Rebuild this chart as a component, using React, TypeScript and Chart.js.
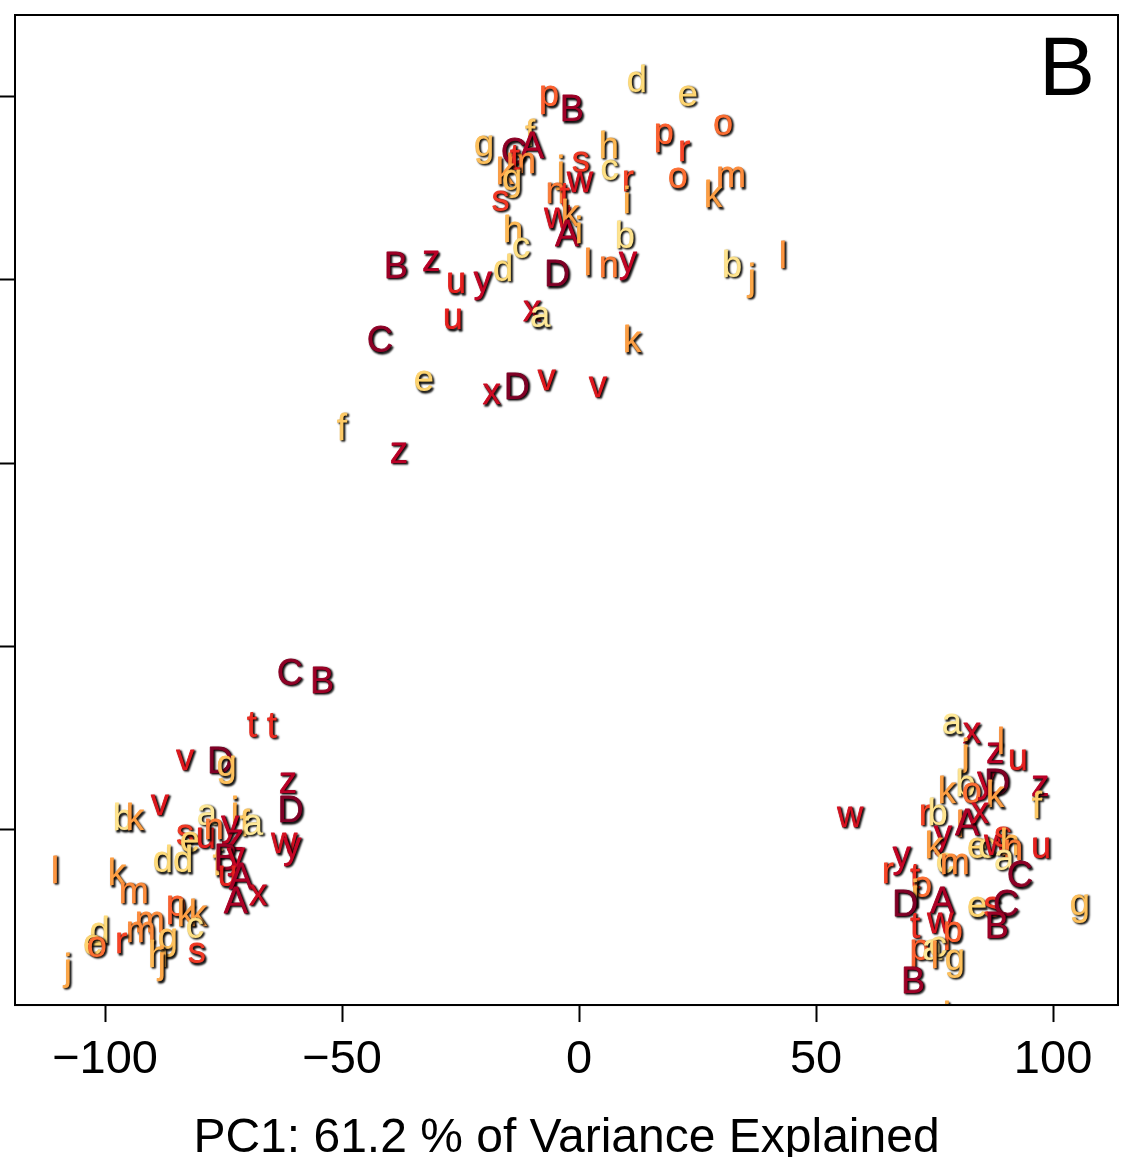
import React, { useEffect, useRef } from 'react';
import { Chart, registerables } from 'chart.js';

Chart.register(...registerables);

// Sample codes in colour order (pale yellow -> dark red)
const CODES = 'abcdefghijklmnopqrstuvwxyzABCD';

// Axis ticks
const X_TICKS = [-100, -50, 0, 50, 100];
const Y_TICKS = [40, 20, 0, -20, -40];
const X_TITLE = 'PC1: 61.2 % of Variance Explained';
const PANEL = 'B';

// Upper group
const TOP_LABELS = ['p','B','d','e','o','p','r','h','c','r','i','o','m','k','s','w','j','n','t','w','k','A','i','b','l','n','y','b','j','l','f','g','C','A','m','t','k','g','s','h','c','B','z','u','y','d','D','u','x','a','k','C','e','x','D','v','v','f','z'];
const TOP_PC1 = [-6.3,-1.5,12.2,23.0,30.4,17.9,22.2,6.3,6.5,10.3,
  10.1,20.9,32.1,28.3,0.4,0.2,-3.8,-4.9,-3.0,-4.6,
  -1.9,-2.5,0.0,9.7,1.9,6.3,10.3,32.3,36.5,43.0,
  -10.3,-20.0,-13.7,-9.9,-12.2,-13.5,-15.6,-14.1,-16.5,-13.9,
  -12.2,-38.6,-31.2,-25.9,-20.3,-16.0,-4.6,-26.6,-9.9,-8.2,
  11.2,-42.0,-32.7,-18.4,-13.1,-6.8,4.0,-50.0,-38.0];
const TOP_PC2 = [40.0,38.4,41.6,40.1,36.9,35.9,34.0,34.4,32.0,30.8,
  28.4,31.1,31.2,29.0,32.9,30.7,31.8,29.5,28.9,26.7,
  27.0,24.8,25.1,24.6,21.6,21.4,21.9,21.4,20.0,22.4,
  35.7,34.6,33.7,34.4,32.7,33.1,31.5,30.9,28.6,25.2,
  23.5,21.3,22.0,19.6,19.8,21.0,20.4,15.7,16.6,15.9,
  13.2,13.2,8.9,7.5,8.1,9.1,8.3,3.6,1.1];

// Lower-left group
const LEFT_LABELS = ['C','B','t','t','v','D','g','z','v','D','b','k','a','i','y','f','a','s','e','u','n','z','w','y','d','d','f','B','y','u','A','A','x','l','k','m','p','k','k','c','m','m','g','h','j','s','r','d','e','o','j'];
const LEFT_PC1 = [-61.0,-54.2,-69.0,-64.8,-83.1,-75.7,-74.3,-61.4,-88.4,-60.8,
  -96.2,-93.7,-78.5,-72.6,-73.6,-70.5,-68.8,-83.1,-82.1,-78.7,
  -77.0,-72.6,-62.2,-60.5,-87.8,-83.5,-76.2,-74.5,-72.4,-74.1,
  -71.3,-72.4,-67.7,-110.5,-97.5,-93.9,-85.0,-82.9,-80.4,-81.0,
  -90.5,-92.4,-86.7,-88.8,-88.0,-80.6,-96.6,-101.1,-102.5,-101.7,
  -107.8];
const LEFT_PC2 = [-23.1,-24.0,-28.8,-28.9,-32.4,-32.7,-33.1,-34.9,-37.3,-38.1,
  -39.0,-39.0,-38.4,-38.2,-39.6,-39.6,-39.5,-40.6,-41.4,-40.9,
  -40.0,-41.1,-41.5,-42.0,-43.6,-43.6,-43.9,-43.3,-43.1,-45.1,
  -45.4,-48.0,-47.1,-44.7,-45.0,-46.9,-48.4,-49.4,-49.4,-50.7,
  -50.1,-51.2,-52.0,-53.9,-54.6,-53.5,-52.4,-51.3,-52.6,-52.8,
  -55.3];

// Lower-right group
const RIGHT_LABELS = ['a','x','j','z','l','u','k','b','o','y','D','k','z','f','w','r','b','l','A','x','y','k','c','m','e','c','w','s','h','n','a','u','C','y','r','t','o','i','D','A','e','s','C','g','t','w','p','B','p','a','c','l','g','B','i'];
const RIGHT_PC1 = [78.7,82.9,81.6,87.8,89.0,92.6,77.6,81.6,82.9,85.9,
  88.2,87.8,97.3,96.6,57.2,73.0,75.7,80.4,81.9,84.6,
  76.8,74.9,77.2,79.3,84.0,86.1,88.2,89.5,90.9,91.6,
  89.7,97.5,93.0,68.1,65.2,70.9,72.4,70.9,68.8,76.6,
  84.0,87.3,90.1,105.7,70.9,76.2,78.9,88.2,71.9,74.5,
  75.7,75.1,79.3,70.5,77.6];
const RIGHT_PC2 = [-28.5,-29.5,-31.9,-31.6,-30.7,-32.4,-36.0,-35.2,-36.0,-34.8,
  -35.1,-36.5,-35.3,-37.6,-38.6,-38.4,-38.4,-39.7,-39.5,-38.2,
  -40.7,-42.0,-43.7,-43.8,-42.0,-42.0,-41.7,-40.8,-41.7,-42.2,
  -43.3,-42.0,-45.2,-43.0,-44.7,-45.4,-46.3,-47.3,-48.3,-48.0,
  -48.5,-48.5,-48.4,-48.2,-50.7,-50.2,-51.2,-50.7,-53.1,-53.1,
  -52.8,-54.0,-54.2,-56.7,-60.6];

const X_MIN = -119.0;
const X_MAX = 113.7;
const Y_MIN = -59.15;
const Y_MAX = 48.9;

const FONT = '"Liberation Sans", Arial, Helvetica, sans-serif';

const STOPS = ['#ffffcc', '#ffeda0', '#fed976', '#feb24c', '#fd8d3c', '#fc4e2a', '#e31a1c', '#bd0026', '#800026'];

function hexToRgb(h: string) {
  return [parseInt(h.slice(1, 3), 16), parseInt(h.slice(3, 5), 16), parseInt(h.slice(5, 7), 16)];
}

function codeColor(ch: string) {
  const idx = Math.max(0, CODES.indexOf(ch));
  const t = 0.15 + 0.85 * idx / (CODES.length - 1);
  const pos = t * (STOPS.length - 1);
  const i = Math.min(STOPS.length - 2, Math.floor(pos));
  const f = pos - i;
  const a = hexToRgb(STOPS[i]);
  const b = hexToRgb(STOPS[i + 1]);
  const c = a.map((v, k) => Math.round(v + (b[k] - v) * f));
  return `rgb(${c[0]},${c[1]},${c[2]})`;
}

function points(xs: number[], ys: number[]) {
  return xs.map((x, i) => ({ x, y: ys[i] }));
}

const lettersPlugin = {
  id: 'letters',
  afterDatasetsDraw(chart: any) {
    const { ctx, chartArea } = chart;
    const { left, top, right, bottom } = chartArea;
    ctx.save();
    ctx.beginPath();
    ctx.rect(left, top, right - left, bottom - top);
    ctx.clip();
    ctx.font = `36px ${FONT}`;
    ctx.textAlign = 'center';
    ctx.textBaseline = 'middle';
    ctx.lineJoin = 'round';
    chart.data.datasets.forEach((ds: any, di: number) => {
      const meta = chart.getDatasetMeta(di);
      meta.data.forEach((el: any, i: number) => {
        const ch = ds.codes[i];
        const col = codeColor(ch);
        ctx.shadowColor = 'rgba(0,0,0,1)';
        ctx.shadowOffsetX = 1.5;
        ctx.shadowOffsetY = 1.5;
        ctx.shadowBlur = 2;
        ctx.fillStyle = col;
        ctx.strokeStyle = col;
        ctx.lineWidth = 0.8;
        ctx.strokeText(ch, el.x, el.y);
        ctx.fillText(ch, el.x, el.y);
      });
    });
    ctx.restore();

    ctx.save();
    ctx.strokeStyle = '#000';
    ctx.lineWidth = 2;
    ctx.strokeRect(left, top, right - left, bottom - top);
    ctx.fillStyle = '#000';
    ctx.font = `84px ${FONT}`;
    ctx.textAlign = 'center';
    ctx.textBaseline = 'middle';
    ctx.fillText(PANEL, right - 51, top + 57);
    ctx.restore();
  },
};

export default function App() {
  const ref = useRef<HTMLCanvasElement | null>(null);

  useEffect(() => {
    if (!ref.current) return;
    const mk = (codes: string[], xs: number[], ys: number[]) => ({
      data: points(xs, ys),
      codes,
      pointRadius: 0,
      pointHoverRadius: 0,
      showLine: false,
    });
    const chart = new Chart(ref.current, {
      type: 'scatter',
      data: {
        datasets: [
          mk(TOP_LABELS, TOP_PC1, TOP_PC2),
          mk(LEFT_LABELS, LEFT_PC1, LEFT_PC2),
          mk(RIGHT_LABELS, RIGHT_PC1, RIGHT_PC2),
        ] as any,
      },
      options: {
        animation: false,
        responsive: false,
        events: [],
        layout: { padding: { left: 0, top: 15, right: 3, bottom: 0 } },
        plugins: { legend: { display: false }, tooltip: { enabled: false } },
        scales: {
          x: {
            type: 'linear',
            position: 'bottom',
            min: X_MIN,
            max: X_MAX,
            afterBuildTicks: (s: any) => { s.ticks = X_TICKS.map((v) => ({ value: v })); },
            border: { display: true, color: '#000', width: 2 },
            grid: { drawOnChartArea: false, drawTicks: true, tickLength: 17, tickColor: '#000', tickWidth: 2 },
            ticks: {
              color: '#000',
              padding: 15,
              maxRotation: 0,
              autoSkip: false,
              font: { family: FONT, size: 47, lineHeight: 1 },
              callback: (v: any) => (v < 0 ? '\u2212' + Math.abs(v) : String(v)),
            },
            title: {
              display: true,
              text: X_TITLE,
              color: '#000',
              font: { family: FONT, size: 48, lineHeight: 0.77 },
              padding: { top: 21, bottom: 0 },
            },
          },
          y: {
            type: 'linear',
            position: 'left',
            min: Y_MIN,
            max: Y_MAX,
            afterBuildTicks: (s: any) => { s.ticks = Y_TICKS.map((v) => ({ value: v })); },
            border: { display: true, color: '#000', width: 2 },
            grid: { drawOnChartArea: false, drawTicks: true, tickLength: 15, tickColor: '#000', tickWidth: 2 },
            ticks: { display: false },
          },
        },
      },
      plugins: [lettersPlugin],
    } as any);
    return () => chart.destroy();
  }, []);

  return (
    <div style={{ position: 'absolute', left: 0, top: 0, width: 1121, height: 1157, background: '#fff' }}>
      <canvas ref={ref} width={1121} height={1157} style={{ width: 1121, height: 1157, display: 'block' }} />
    </div>
  );
}
